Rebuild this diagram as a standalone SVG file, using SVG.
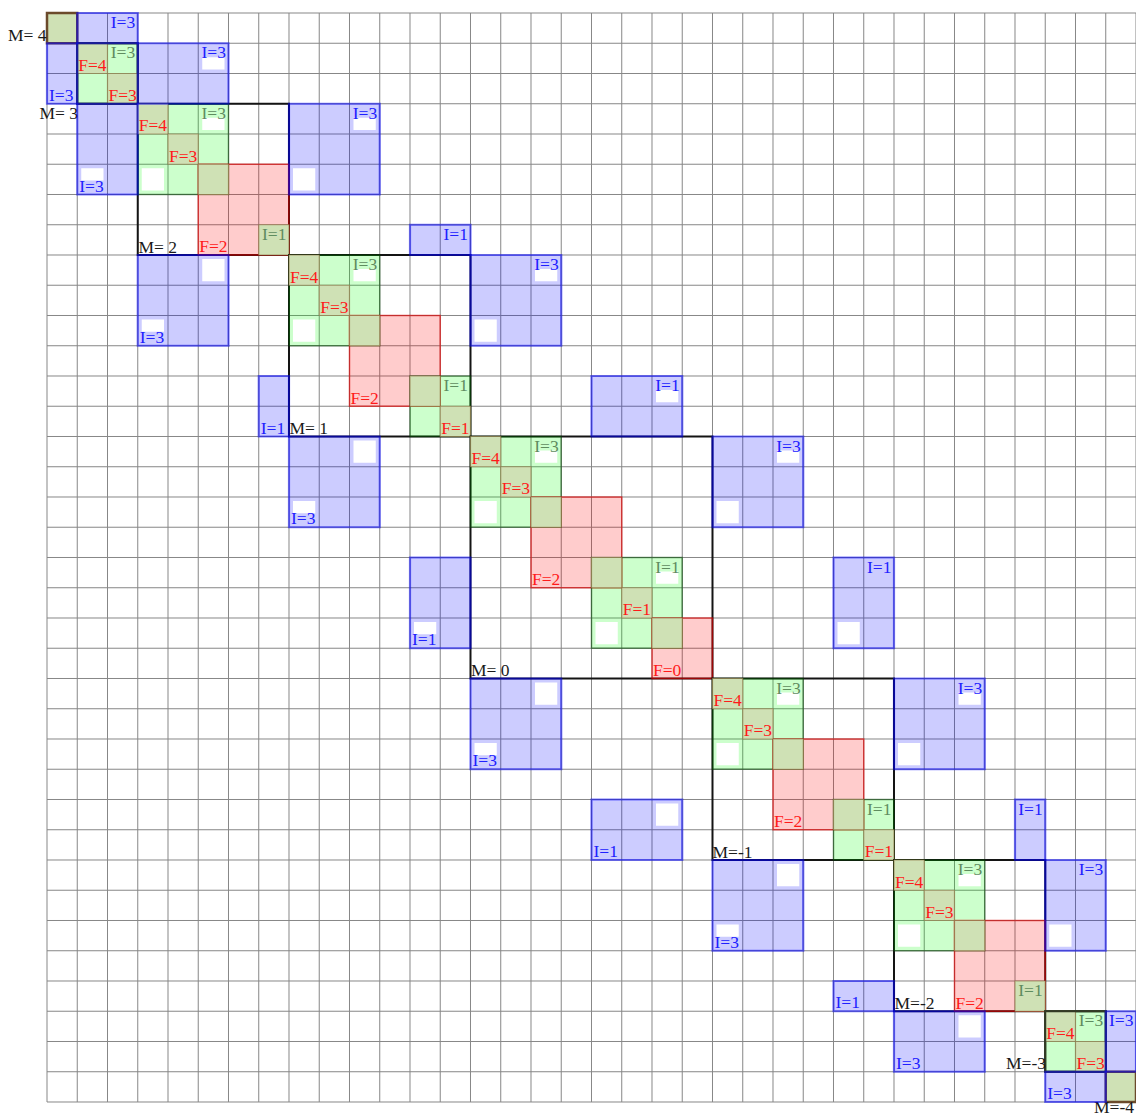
<svg xmlns="http://www.w3.org/2000/svg" width="1136" height="1117" viewBox="0 0 1136 1117">
<style>
 .s rect, .s path { vector-effect: non-scaling-stroke; }
 .grid { fill:none; stroke:#878787; stroke-width:1; }
 .box { fill:none; stroke:#141414; stroke-width:2; }
 .b { fill:#0000ff; fill-opacity:0.2; stroke:#0000ff; stroke-opacity:0.5; stroke-width:2.2; }
 .g { fill:#00ff00; fill-opacity:0.2; stroke:#004000; stroke-opacity:0.5; stroke-width:1.5; }
 .r { fill:#ff0000; fill-opacity:0.2; stroke:#e00000; stroke-opacity:0.62; stroke-width:1.5; }
 .o { fill:#cfe1b5; stroke:#8c6a3c; stroke-opacity:0.6; stroke-width:1.2; }
 .ob { fill:none; stroke:#6b4a2b; stroke-width:2.5; }
 .db { fill:none; stroke:#333a24; stroke-width:2; }
 .w { fill:#ffffff; }
 text { font-family:"Liberation Serif","Times New Roman",serif; font-size:17.5px; }
 .tf { fill:#ff1a1a; }
 .tg { fill:#5f8c5f; }
 .tb { fill:#2020ff; }
 .tm { fill:#1a1a1a; }
 .e { text-anchor:end; }
</style>
<rect x="0" y="0" width="1136" height="1117" fill="#ffffff"/>
<g id="grid" class="s" transform="translate(47 13) scale(30.25)">
 <path class="grid" d="M0 0V36M1 0V36M2 0V36M3 0V36M4 0V36M5 0V36M6 0V36M7 0V36M8 0V36M9 0V36M10 0V36M11 0V36M12 0V36M13 0V36M14 0V36M15 0V36M16 0V36M17 0V36M18 0V36M19 0V36M20 0V36M21 0V36M22 0V36M23 0V36M24 0V36M25 0V36M26 0V36M27 0V36M28 0V36M29 0V36M30 0V36M31 0V36M32 0V36M33 0V36M34 0V36M35 0V36M36 0V36M0 0H36M0 1H36M0 2H36M0 3H36M0 4H36M0 5H36M0 6H36M0 7H36M0 8H36M0 9H36M0 10H36M0 11H36M0 12H36M0 13H36M0 14H36M0 15H36M0 16H36M0 17H36M0 18H36M0 19H36M0 20H36M0 21H36M0 22H36M0 23H36M0 24H36M0 25H36M0 26H36M0 27H36M0 28H36M0 29H36M0 30H36M0 31H36M0 32H36M0 33H36M0 34H36M0 35H36M0 36H36"/>
</g>

<g id="block-M4">
 <g class="s" transform="translate(47 13) scale(30.25)">
  <rect class="o" x="0" y="0" width="1" height="1"/>
  <rect class="ob" x="0" y="0" width="1" height="1"/>
 </g>
 <text class="tm e" x="46.5" y="41">M= 4</text>
</g>

<g id="block-M3">
 <g class="s" transform="translate(47 13) scale(30.25)">
  <rect class="box" x="1" y="1" width="2" height="2"/>
  <rect class="g" x="1" y="1" width="2" height="2"/>
  <rect class="o" x="1" y="1" width="1" height="1"/>
  <rect class="o" x="2" y="2" width="1" height="1"/>
  <rect class="db" x="1" y="1" width="2" height="2"/>
 </g>
 <text class="tf" x="78.25" y="70.8">F=4</text>
 <text class="tf" x="108.5" y="101.05">F=3</text>
 <text class="tg e" x="135.25" y="58.25">I=3</text>
 <text class="tm e" x="78" y="119">M= 3</text>
</g>

<g id="block-M2">
 <g class="s" transform="translate(47 13) scale(30.25)">
  <rect class="box" x="3" y="3" width="5" height="5"/>
  <rect class="g" x="3" y="3" width="3" height="3"/>
  <rect class="r" x="5" y="5" width="3" height="3"/>
  <rect class="o" x="3" y="3" width="1" height="1"/>
  <rect class="o" x="4" y="4" width="1" height="1"/>
  <rect class="o" x="5" y="5" width="1" height="1"/>
  <rect class="o" x="7" y="7" width="1" height="1"/>
  <rect class="w" x="5.132" y="3.463" width="0.736" height="0.405"/>
  <rect class="w" x="3.132" y="5.132" width="0.736" height="0.736"/>
 </g>
 <text class="tf" x="138.75" y="131.3">F=4</text>
 <text class="tf" x="169" y="161.55">F=3</text>
 <text class="tg e" x="226" y="118.75">I=3</text>
 <text class="tf" x="199.25" y="252.3">F=2</text>
 <text class="tg e" x="286.5" y="239.75">I=1</text>
 <text class="tm" x="138.5" y="252.5">M= 2</text>
</g>

<g id="block-M1">
 <g class="s" transform="translate(47 13) scale(30.25)">
  <rect class="box" x="8" y="8" width="6" height="6"/>
  <rect class="g" x="8" y="8" width="3" height="3"/>
  <rect class="r" x="10" y="10" width="3" height="3"/>
  <rect class="g" x="12" y="12" width="2" height="2"/>
  <rect class="o" x="8" y="8" width="1" height="1"/>
  <rect class="o" x="9" y="9" width="1" height="1"/>
  <rect class="o" x="10" y="10" width="1" height="1"/>
  <rect class="o" x="12" y="12" width="1" height="1"/>
  <rect class="o" x="13" y="13" width="1" height="1"/>
  <rect class="w" x="10.132" y="8.463" width="0.736" height="0.405"/>
  <rect class="w" x="8.132" y="10.132" width="0.736" height="0.736"/>
 </g>
 <text class="tf" x="290" y="282.55">F=4</text>
 <text class="tf" x="320.25" y="312.8">F=3</text>
 <text class="tg e" x="377.25" y="270">I=3</text>
 <text class="tf" x="350.5" y="403.55">F=2</text>
 <text class="tg e" x="468" y="391">I=1</text>
 <text class="tf" x="441.25" y="433.8">F=1</text>
 <text class="tm" x="289.5" y="434">M= 1</text>
</g>

<g id="block-M0">
 <g class="s" transform="translate(47 13) scale(30.25)">
  <rect class="box" x="14" y="14" width="8" height="8"/>
  <rect class="g" x="14" y="14" width="3" height="3"/>
  <rect class="r" x="16" y="16" width="3" height="3"/>
  <rect class="g" x="18" y="18" width="3" height="3"/>
  <rect class="r" x="20" y="20" width="2" height="2"/>
  <rect class="o" x="14" y="14" width="1" height="1"/>
  <rect class="o" x="15" y="15" width="1" height="1"/>
  <rect class="o" x="16" y="16" width="1" height="1"/>
  <rect class="o" x="18" y="18" width="1" height="1"/>
  <rect class="o" x="19" y="19" width="1" height="1"/>
  <rect class="o" x="20" y="20" width="1" height="1"/>
  <rect class="w" x="16.132" y="14.463" width="0.736" height="0.405"/>
  <rect class="w" x="14.132" y="16.132" width="0.736" height="0.736"/>
  <rect class="w" x="20.132" y="18.463" width="0.736" height="0.405"/>
  <rect class="w" x="18.132" y="20.132" width="0.736" height="0.736"/>
 </g>
 <text class="tf" x="471.5" y="464.05">F=4</text>
 <text class="tf" x="501.75" y="494.3">F=3</text>
 <text class="tg e" x="558.75" y="451.5">I=3</text>
 <text class="tf" x="532" y="585.05">F=2</text>
 <text class="tg e" x="679.75" y="572.5">I=1</text>
 <text class="tf" x="622.75" y="615.3">F=1</text>
 <text class="tf" x="653" y="675.8">F=0</text>
 <text class="tm" x="471" y="676">M= 0</text>
</g>

<g id="block-Mm1">
 <g class="s" transform="translate(47 13) scale(30.25)">
  <rect class="box" x="22" y="22" width="6" height="6"/>
  <rect class="g" x="22" y="22" width="3" height="3"/>
  <rect class="r" x="24" y="24" width="3" height="3"/>
  <rect class="g" x="26" y="26" width="2" height="2"/>
  <rect class="o" x="22" y="22" width="1" height="1"/>
  <rect class="o" x="23" y="23" width="1" height="1"/>
  <rect class="o" x="24" y="24" width="1" height="1"/>
  <rect class="o" x="26" y="26" width="1" height="1"/>
  <rect class="o" x="27" y="27" width="1" height="1"/>
  <rect class="w" x="24.132" y="22.463" width="0.736" height="0.405"/>
  <rect class="w" x="22.132" y="24.132" width="0.736" height="0.736"/>
 </g>
 <text class="tf" x="713.5" y="706.05">F=4</text>
 <text class="tf" x="743.75" y="736.3">F=3</text>
 <text class="tg e" x="800.75" y="693.5">I=3</text>
 <text class="tf" x="774" y="827.05">F=2</text>
 <text class="tg e" x="891.5" y="814.5">I=1</text>
 <text class="tf" x="864.75" y="857.3">F=1</text>
 <text class="tm" x="712.5" y="857.5">M=-1</text>
</g>

<g id="block-Mm2">
 <g class="s" transform="translate(47 13) scale(30.25)">
  <rect class="box" x="28" y="28" width="5" height="5"/>
  <rect class="g" x="28" y="28" width="3" height="3"/>
  <rect class="r" x="30" y="30" width="3" height="3"/>
  <rect class="o" x="28" y="28" width="1" height="1"/>
  <rect class="o" x="29" y="29" width="1" height="1"/>
  <rect class="o" x="30" y="30" width="1" height="1"/>
  <rect class="o" x="32" y="32" width="1" height="1"/>
  <rect class="w" x="30.132" y="28.463" width="0.736" height="0.405"/>
  <rect class="w" x="28.132" y="30.132" width="0.736" height="0.736"/>
 </g>
 <text class="tf" x="895" y="887.55">F=4</text>
 <text class="tf" x="925.25" y="917.8">F=3</text>
 <text class="tg e" x="982.25" y="875">I=3</text>
 <text class="tf" x="955.5" y="1008.55">F=2</text>
 <text class="tg e" x="1042.75" y="996">I=1</text>
 <text class="tm" x="894.5" y="1008.7">M=-2</text>
</g>

<g id="block-Mm3">
 <g class="s" transform="translate(47 13) scale(30.25)">
  <rect class="box" x="33" y="33" width="2" height="2"/>
  <rect class="g" x="33" y="33" width="2" height="2"/>
  <rect class="o" x="33" y="33" width="1" height="1"/>
  <rect class="o" x="34" y="34" width="1" height="1"/>
  <rect class="db" x="33" y="33" width="2" height="2"/>
 </g>
 <text class="tf" x="1046.25" y="1038.8">F=4</text>
 <text class="tf" x="1076.5" y="1069.05">F=3</text>
 <text class="tg e" x="1103.25" y="1026.25">I=3</text>
 <text class="tm e" x="1046" y="1068.7">M=-3</text>
</g>

<g id="block-Mm4">
 <g class="s" transform="translate(47 13) scale(30.25)">
  <rect class="o" x="35" y="35" width="1" height="1"/>
  <rect class="ob" x="35" y="35" width="1" height="1"/>
 </g>
 <text class="tm e" x="1134" y="1113">M=-4</text>
</g>

<g id="couplings">
 <g id="I-a">
  <g class="s" transform="translate(47 13) scale(30.25)"><rect class="b" x="1" y="0" width="2" height="1"/></g>
  <text class="tb e" x="135.25" y="28">I=3</text>
 </g>
 <g id="I-a2">
  <g class="s" transform="translate(47 13) scale(30.25)"><rect class="b" x="0" y="1" width="1" height="2"/></g>
  <text class="tb" x="49" y="100.75">I=3</text>
 </g>
 <g id="I-b">
  <g class="s" transform="translate(47 13) scale(30.25)"><rect class="b" x="3" y="1" width="3" height="2"/><rect class="w" x="5.132" y="1.463" width="0.736" height="0.405"/></g>
  <text class="tb e" x="226" y="58.25">I=3</text>
 </g>
 <g id="I-b2">
  <g class="s" transform="translate(47 13) scale(30.25)"><rect class="b" x="1" y="3" width="2" height="3"/><rect class="w" x="1.132" y="5.132" width="0.736" height="0.405"/></g>
  <text class="tb" x="79.25" y="191.5">I=3</text>
 </g>
 <g id="I-c">
  <g class="s" transform="translate(47 13) scale(30.25)"><rect class="b" x="8" y="3" width="3" height="3"/><rect class="w" x="10.132" y="3.463" width="0.736" height="0.405"/><rect class="w" x="8.132" y="5.132" width="0.736" height="0.736"/></g>
  <text class="tb e" x="377.25" y="118.75">I=3</text>
 </g>
 <g id="I-c2">
  <g class="s" transform="translate(47 13) scale(30.25)"><rect class="b" x="3" y="8" width="3" height="3"/><rect class="w" x="3.132" y="10.132" width="0.736" height="0.405"/><rect class="w" x="5.132" y="8.132" width="0.736" height="0.736"/></g>
  <text class="tb" x="139.75" y="342.75">I=3</text>
 </g>
 <g id="I-d">
  <g class="s" transform="translate(47 13) scale(30.25)"><rect class="b" x="12" y="7" width="2" height="1"/></g>
  <text class="tb e" x="468" y="239.75">I=1</text>
 </g>
 <g id="I-d2">
  <g class="s" transform="translate(47 13) scale(30.25)"><rect class="b" x="7" y="12" width="1" height="2"/></g>
  <text class="tb" x="260.75" y="433.5">I=1</text>
 </g>
 <g id="I-e">
  <g class="s" transform="translate(47 13) scale(30.25)"><rect class="b" x="14" y="8" width="3" height="3"/><rect class="w" x="16.132" y="8.463" width="0.736" height="0.405"/><rect class="w" x="14.132" y="10.132" width="0.736" height="0.736"/></g>
  <text class="tb e" x="558.75" y="270">I=3</text>
 </g>
 <g id="I-e2">
  <g class="s" transform="translate(47 13) scale(30.25)"><rect class="b" x="8" y="14" width="3" height="3"/><rect class="w" x="8.132" y="16.132" width="0.736" height="0.405"/><rect class="w" x="10.132" y="14.132" width="0.736" height="0.736"/></g>
  <text class="tb" x="291" y="524.25">I=3</text>
 </g>
 <g id="I-f">
  <g class="s" transform="translate(47 13) scale(30.25)"><rect class="b" x="18" y="12" width="3" height="2"/><rect class="w" x="20.132" y="12.463" width="0.736" height="0.405"/></g>
  <text class="tb e" x="679.75" y="391">I=1</text>
 </g>
 <g id="I-f2">
  <g class="s" transform="translate(47 13) scale(30.25)"><rect class="b" x="12" y="18" width="2" height="3"/><rect class="w" x="12.132" y="20.132" width="0.736" height="0.405"/></g>
  <text class="tb" x="412" y="645.25">I=1</text>
 </g>
 <g id="I-g">
  <g class="s" transform="translate(47 13) scale(30.25)"><rect class="b" x="22" y="14" width="3" height="3"/><rect class="w" x="24.132" y="14.463" width="0.736" height="0.405"/><rect class="w" x="22.132" y="16.132" width="0.736" height="0.736"/></g>
  <text class="tb e" x="800.75" y="451.5">I=3</text>
 </g>
 <g id="I-g2">
  <g class="s" transform="translate(47 13) scale(30.25)"><rect class="b" x="14" y="22" width="3" height="3"/><rect class="w" x="14.132" y="24.132" width="0.736" height="0.405"/><rect class="w" x="16.132" y="22.132" width="0.736" height="0.736"/></g>
  <text class="tb" x="472.5" y="766.25">I=3</text>
 </g>
 <g id="I-h">
  <g class="s" transform="translate(47 13) scale(30.25)"><rect class="b" x="26" y="18" width="2" height="3"/><rect class="w" x="26.132" y="20.132" width="0.736" height="0.736"/></g>
  <text class="tb e" x="891.5" y="572.5">I=1</text>
 </g>
 <g id="I-h2">
  <g class="s" transform="translate(47 13) scale(30.25)"><rect class="b" x="18" y="26" width="3" height="2"/><rect class="w" x="20.132" y="26.132" width="0.736" height="0.736"/></g>
  <text class="tb" x="593.5" y="857">I=1</text>
 </g>
 <g id="I-i">
  <g class="s" transform="translate(47 13) scale(30.25)"><rect class="b" x="28" y="22" width="3" height="3"/><rect class="w" x="30.132" y="22.463" width="0.736" height="0.405"/><rect class="w" x="28.132" y="24.132" width="0.736" height="0.736"/></g>
  <text class="tb e" x="982.25" y="693.5">I=3</text>
 </g>
 <g id="I-i2">
  <g class="s" transform="translate(47 13) scale(30.25)"><rect class="b" x="22" y="28" width="3" height="3"/><rect class="w" x="22.132" y="30.132" width="0.736" height="0.405"/><rect class="w" x="24.132" y="28.132" width="0.736" height="0.736"/></g>
  <text class="tb" x="714.5" y="947.75">I=3</text>
 </g>
 <g id="I-j">
  <g class="s" transform="translate(47 13) scale(30.25)"><rect class="b" x="32" y="26" width="1" height="2"/></g>
  <text class="tb e" x="1042.75" y="814.5">I=1</text>
 </g>
 <g id="I-j2">
  <g class="s" transform="translate(47 13) scale(30.25)"><rect class="b" x="26" y="32" width="2" height="1"/></g>
  <text class="tb" x="835.5" y="1008.25">I=1</text>
 </g>
 <g id="I-k">
  <g class="s" transform="translate(47 13) scale(30.25)"><rect class="b" x="33" y="28" width="2" height="3"/><rect class="w" x="33.132" y="30.132" width="0.736" height="0.736"/></g>
  <text class="tb e" x="1103.25" y="875">I=3</text>
 </g>
 <g id="I-k2">
  <g class="s" transform="translate(47 13) scale(30.25)"><rect class="b" x="28" y="33" width="3" height="2"/><rect class="w" x="30.132" y="33.132" width="0.736" height="0.736"/></g>
  <text class="tb" x="896" y="1068.75">I=3</text>
 </g>
 <g id="I-l">
  <g class="s" transform="translate(47 13) scale(30.25)"><rect class="b" x="35" y="33" width="1" height="2"/></g>
  <text class="tb e" x="1133.5" y="1026.25">I=3</text>
 </g>
 <g id="I-l2">
  <g class="s" transform="translate(47 13) scale(30.25)"><rect class="b" x="33" y="35" width="2" height="1"/></g>
  <text class="tb" x="1047.25" y="1099">I=3</text>
 </g>
</g>
</svg>
